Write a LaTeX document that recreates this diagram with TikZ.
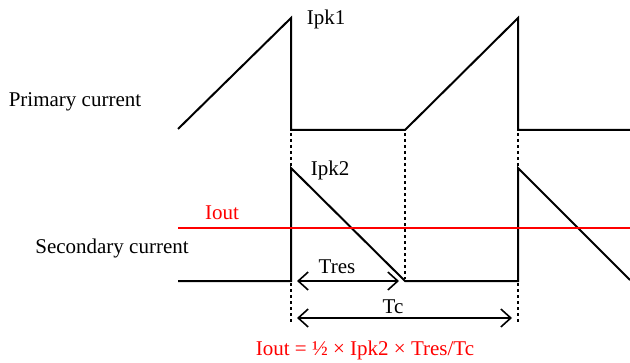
\documentclass[tikz,border=0pt]{standalone}
\usepackage{fontspec}
\setmainfont{Liberation Serif}
\usetikzlibrary{arrows.meta}

\begin{document}
\begin{tikzpicture}[x=0.5pt,y=-0.5pt,
    wave/.style={line width=1pt, black},
    guide/.style={line width=0.7pt, dash pattern=on 1.5pt off 1.5pt},
    span/.style={line width=0.8pt, {Straight Barb[length=5pt,width=9pt]}-{Straight Barb[length=5pt,width=9pt]}},
    lbl/.style={inner sep=0pt, font=\fontsize{10.5}{12}\selectfont}]
  \useasboundingbox (0,0) rectangle (630,363);

  % Primary current, two ramps up to Ipk1.
  \draw[wave] (178,129) -- (291,18) -- (291,130) -- (405,130)
    -- (518,18) -- (518,130) -- (630,130);
  \node[lbl] (ipka) at (326,19) {Ipk1};
  \node[lbl] (prim) at (75,102) {Primary current};

  % Secondary current, ramps down from Ipk2.
  \draw[wave] (178,281) -- (291,281) -- (291,168) -- (405,281)
    -- (518,281) -- (518,168) -- (630,280);
  \node[lbl] (ipkb) at (330,170) {Ipk2};
  \node[lbl] (secd) at (112,248) {Secondary current};

  % Average output current.
  \draw[line width=0.8pt, red] (178,228) -- (630,228);
  \node[lbl, text=red] (iout) at (222,213) {Iout};

  % Timing guides.
  \draw[guide] (291,133) -- (291,324);
  \draw[guide] (405,133) -- (405,279);
  \draw[guide] (518,133) -- (518,324);

  \coordinate (tresl) at (297,281);
  \coordinate (tresr) at (399,281);
  \coordinate (tcl) at (297,318);
  \coordinate (tcr) at (512,318);
  \draw[span] (tresl) -- (tresr);
  \draw[span] (tcl) -- (tcr);
  \node[lbl] (tres) at (337,267) {Tres};
  \node[lbl] (tc) at (393,307) {Tc};

  \node[lbl, text=red] (form) at (365,350) {Iout = ½ × Ipk2 × Tres/Tc};
\end{tikzpicture}
\end{document}
